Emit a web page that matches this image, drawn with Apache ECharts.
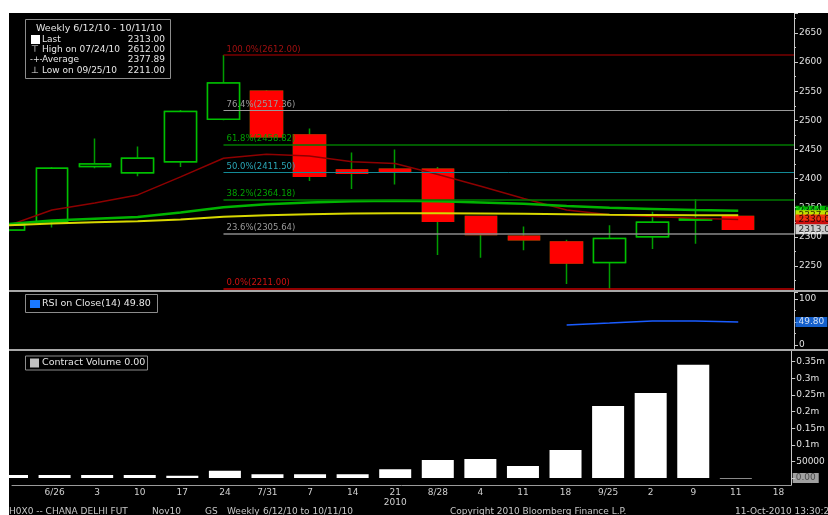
<!DOCTYPE html>
<html><head><meta charset="utf-8">
<script src="https://cdn.jsdelivr.net/npm/echarts@6/dist/echarts.min.js"></script>
<style>
html,body{margin:0;padding:0;background:#fff;width:828px;height:515px;overflow:hidden}
#c{position:absolute;left:9px;top:13px;width:819px;height:502px;background:#000}
</style>
</head><body><div id="c"></div>
<script>
// ---------- data ----------
const weeks = ['6/19','6/26','7/3','7/10','7/17','7/24','7/31','8/7','8/14','8/21','8/28','9/4','9/11','9/18','9/25','10/2','10/9','10/11'];
const tickLabels = ['', '6/26','3','10','17','24','7/31','7','14','21\n2010','8/28','4','11','18','9/25','2','9','11','18'];
const opens  = [2312, 2326, 2421, 2410, 2429, 2502, 2550, 2475, 2415, 2416, 2416, 2335, 2301, 2291, 2256, 2300, 2329, 2335];
const closes = [2320, 2418, 2425, 2435, 2515, 2564, 2472, 2404, 2409, 2412, 2327, 2304, 2295, 2255, 2297, 2325, 2331, 2313];
const lows   = [2308, 2316, 2418, 2404, 2420, 2500, 2470, 2396, 2382, 2390, 2269, 2264, 2277, 2219, 2211, 2279, 2288, 2312];
const highs  = [2322, 2420, 2469, 2455, 2518, 2612, 2552, 2486, 2445, 2450, 2420, 2336, 2318, 2295, 2320, 2343, 2365, 2336];
const maRed    = [2320, 2346, 2358, 2372, 2403, 2435, 2442, 2439, 2429, 2426, 2407, 2387, 2366, 2346, 2338, 2335, 2332, 2330];
const maGreen  = [2322, 2328, 2331, 2334, 2342, 2351, 2356, 2359, 2361, 2362, 2361, 2359, 2357, 2353, 2350, 2348, 2346, 2344.9];
const maYellow = [2320, 2323, 2325, 2327, 2330, 2334.5, 2337, 2339, 2340, 2340.5, 2340.5, 2340, 2339.5, 2339, 2338, 2337.5, 2337, 2337];
const rsi = [null, null, null, null, null, null, null, null, null, null, null, null, null, 43.5, 47.8, 52.2, 52.2, 49.8];
const volume = [9000, 9000, 9000, 9000, 7000, 22000, 11000, 11000, 11000, 26000, 54000, 57000, 36000, 84000, 217000, 256000, 341000, 0];
const fibPcts = ['100.0%','76.4%','61.8%','50.0%','38.2%','23.6%','0.0%'];
const fibLevels = [2612.00, 2517.36, 2458.82, 2411.50, 2364.18, 2305.64, 2211.00];
const fibStartWeek = 5;
const lastClose = 2313.00, highVal = 2612.00, avgVal = 2377.89, lowVal = 2211.00, rsiLast = 49.80, volLast = 0.00;
const priceTicks = [2250, 2300, 2350, 2400, 2450, 2500, 2550, 2600, 2650];

// ---------- styles ----------
const FONT = '"DejaVu Sans", Verdana, sans-serif';
const fibLineColors = ['#7a0000', '#9a9a9a', '#007a00', '#138a96', '#007a00', '#8a8a8a', '#c00000'];
const fibTextColors = ['#a01010', '#9a9a9a', '#00a000', '#2aa6b6', '#00a000', '#9a9a9a', '#d01010'];
const fibWidths = [1.5, 1, 1.5, 1, 1.5, 1.5, 1.5];
const X_MAX = 18.3;

const idx = weeks.map((_, i) => i);
const pts = arr => arr.map((v, i) => v == null ? null : [i, v]).filter(Boolean);

// value tag on the right axis, drawn as a scatter label at the axis edge
function tagSeries(gi, value, text, bg, fg, z) {
  return { type: 'scatter', xAxisIndex: gi, yAxisIndex: gi, z: z, silent: true, clip: false,
    symbol: 'rect', symbolSize: 1, itemStyle: { color: 'rgba(0,0,0,0)' },
    data: [[X_MAX, value]],
    label: { show: true, position: 'right', distance: 1, formatter: text, backgroundColor: bg, color: fg,
      fontSize: 9, fontFamily: FONT, padding: [1, 3, 0, 3] } };
}

const chart = echarts.init(document.getElementById('c'), null, { renderer: 'canvas', width: 819, height: 502 });

const hiddenX = g => ({ type: 'value', gridIndex: g, min: 0, max: X_MAX, interval: 1, show: false });
const LF = '9px ' + FONT;
const last = a => a[a.length - 1];

const option = {
  animation: false,
  backgroundColor: '#000',
  grid: [
    { left: -1, right: 34, top: 0, height: 277 },
    { left: -1, right: 34, top: 279, height: 57 },
    { left: -1, right: 34, top: 338, height: 134 }
  ],
  xAxis: [
    hiddenX(0), hiddenX(1),
    { type: 'value', gridIndex: 2, min: 0, max: X_MAX, interval: 1,
      axisLine: { show: true, onZero: false, lineStyle: { color: '#9a9a9a', width: 1 } },
      axisTick: { show: false }, splitLine: { show: false },
      axisLabel: { color: '#d0d0d0', fontSize: 9, fontFamily: FONT, margin: 3, lineHeight: 10,
        showMaxLabel: false,
        formatter: v => Number.isInteger(v) && tickLabels[v] !== undefined ? tickLabels[v] : '' } }
  ],
  yAxis: [
    { type: 'value', gridIndex: 0, position: 'right', min: 2208.8, max: 2684.3,
      splitNumber: 10, minInterval: 50, maxInterval: 50, scale: true,
      axisLine: { show: true, onZero: false, lineStyle: { color: '#c8c8c8' } },
      axisTick: { show: true, length: 4, lineStyle: { color: '#c8c8c8' } },
      minorTick: { show: true, splitNumber: 2, length: 2, lineStyle: { color: '#c8c8c8' } },
      splitLine: { show: false },
      axisLabel: { color: '#e0e0e0', fontSize: 9, fontFamily: FONT, margin: 5,
        showMinLabel: false, showMaxLabel: false,
        formatter: v => priceTicks.indexOf(v) >= 0 ? String(v) : '' } },
    { type: 'value', gridIndex: 1, position: 'right', min: -8.7, max: 115.2,
      splitNumber: 2, minInterval: 50, maxInterval: 50,
      axisLine: { show: true, onZero: false, lineStyle: { color: '#c8c8c8' } },
      axisTick: { show: true, length: 4, lineStyle: { color: '#c8c8c8' } },
      minorTick: { show: true, splitNumber: 2, length: 2, lineStyle: { color: '#c8c8c8' } },
      splitLine: { show: false },
      axisLabel: { color: '#e0e0e0', fontSize: 9, fontFamily: FONT, margin: 5,
        showMinLabel: false, showMaxLabel: false,
        formatter: v => (v === 0 || v === 100) ? String(v) : '' } },
    { type: 'value', gridIndex: 2, position: 'right', min: -21066, max: 382200,
      splitNumber: 8, minInterval: 50000, maxInterval: 50000,
      axisLine: { show: true, onZero: false, lineStyle: { color: '#c8c8c8' } },
      axisTick: { show: true, length: 4, lineStyle: { color: '#c8c8c8' } },
      splitLine: { show: false },
      axisLabel: { color: '#e0e0e0', fontSize: 9, fontFamily: FONT, margin: 5,
        showMinLabel: false, showMaxLabel: false,
        formatter: v => v >= 100000 ? (v / 1e6) + 'm' : (v === 50000 ? '50000' : '') } }
  ],
  series: [
    { type: 'candlestick', name: 'wicks', xAxisIndex: 0, yAxisIndex: 0, barWidth: 32, silent: true,
      data: idx.map(i => [i, opens[i], closes[i], lows[i], highs[i]]),
      itemStyle: { color: 'rgba(0,0,0,0)', color0: 'rgba(0,0,0,0)', borderColor: '#009c00', borderColor0: '#009c00', borderColorDoji: '#009c00', borderWidth: 1.5 } },
    { type: 'candlestick', name: 'bodies', xAxisIndex: 0, yAxisIndex: 0, barWidth: 32, silent: true,
      data: idx.map(i => [i, opens[i], closes[i], Math.min(opens[i], closes[i]), Math.max(opens[i], closes[i])]),
      itemStyle: { color: '#000', color0: '#ff0000', borderColor: '#00c000', borderColor0: '#ff0000', borderColorDoji: '#00a000', borderWidth: 1.5 } },
    { type: 'line', name: 'maRed', xAxisIndex: 0, yAxisIndex: 0, data: pts(maRed), showSymbol: false, silent: true,
      lineStyle: { color: '#8e0000', width: 1.5 } },
    { type: 'line', name: 'maGreen', xAxisIndex: 0, yAxisIndex: 0, data: pts(maGreen), showSymbol: false, silent: true,
      lineStyle: { color: '#00b400', width: 2.5 } },
    { type: 'line', name: 'maYellow', xAxisIndex: 0, yAxisIndex: 0, data: pts(maYellow), showSymbol: false, silent: true,
      lineStyle: { color: '#d8d800', width: 2 } },
    { type: 'line', name: 'fib', xAxisIndex: 0, yAxisIndex: 0, data: [], silent: true,
      markLine: { silent: true, symbol: 'none', animation: false, z: 4,
        data: fibLevels.map((v, k) => [
          { coord: [fibStartWeek, v], lineStyle: { color: fibLineColors[k], width: fibWidths[k], type: 'solid' },
            label: { show: true, position: 'insideStartTop', formatter: fibPcts[k] + '(' + v.toFixed(2) + ')',
              color: fibTextColors[k], fontSize: 8.5, fontFamily: FONT, distance: [3, 1] } },
          { coord: [X_MAX, v] }
        ]) } },
    tagSeries(0, last(maGreen), last(maGreen).toFixed(1), '#00e000', '#000', 20),
    tagSeries(0, last(maYellow), last(maYellow).toFixed(1), '#f0f000', '#000', 21),
    tagSeries(0, last(maRed), last(maRed).toFixed(1), '#ff1010', '#000', 22),
    tagSeries(0, lastClose, lastClose.toFixed(2), '#ffffff', '#000', 23),
    { type: 'line', name: 'rsi', xAxisIndex: 1, yAxisIndex: 1, data: pts(rsi), showSymbol: false, silent: true,
      lineStyle: { color: '#1a5cff', width: 1.5 } },
    tagSeries(1, rsiLast, rsiLast.toFixed(2), '#1a78ff', '#ffffff', 20),
    { type: 'bar', name: 'volume', xAxisIndex: 2, yAxisIndex: 2, barWidth: 32, barMinHeight: 1, silent: true, clip: false,
      data: pts(volume),
      itemStyle: { color: p => p.value[1] === 0 ? '#8a8a8a' : '#ffffff' } },
    tagSeries(2, volLast, volLast.toFixed(2), '#c8c8c8', '#333', 20)
  ],
  graphic: [
    { type: 'rect', z: 100, shape: { x: 0, y: 277, width: 819, height: 2 }, style: { fill: '#a8a8a8' } },
    { type: 'rect', z: 100, shape: { x: 0, y: 336, width: 819, height: 2 }, style: { fill: '#a8a8a8' } },
    { type: 'group', z: 100, children: [
      { type: 'rect', shape: { x: 16.5, y: 6.5, width: 145, height: 59 }, style: { fill: '#000', stroke: '#8c8c8c', lineWidth: 1 } },
      { type: 'text', x: 27, y: 15.5, style: { text: 'Weekly 6/12/10 - 10/11/10', fill: '#e6e6e6', font: '9.5px ' + FONT, textVerticalAlign: 'middle' } },
      { type: 'rect', shape: { x: 22, y: 22, width: 9, height: 9 }, style: { fill: '#ffffff' } },
      { type: 'text', x: 33, y: 26.5, style: { text: 'Last', fill: '#e6e6e6', font: LF, textVerticalAlign: 'middle' } },
      { type: 'text', x: 156, y: 26.5, style: { text: lastClose.toFixed(2), fill: '#e6e6e6', font: LF, textAlign: 'right', textVerticalAlign: 'middle' } },
      { type: 'text', x: 22, y: 36.5, style: { text: '\u22A4', fill: '#e6e6e6', font: LF, textVerticalAlign: 'middle' } },
      { type: 'text', x: 33, y: 36.5, style: { text: 'High on 07/24/10', fill: '#e6e6e6', font: LF, textVerticalAlign: 'middle' } },
      { type: 'text', x: 156, y: 36.5, style: { text: highVal.toFixed(2), fill: '#e6e6e6', font: LF, textAlign: 'right', textVerticalAlign: 'middle' } },
      { type: 'text', x: 21, y: 47, style: { text: '-+-', fill: '#e6e6e6', font: '8px ' + FONT, textVerticalAlign: 'middle' } },
      { type: 'text', x: 33, y: 47, style: { text: 'Average', fill: '#e6e6e6', font: LF, textVerticalAlign: 'middle' } },
      { type: 'text', x: 156, y: 47, style: { text: avgVal.toFixed(2), fill: '#e6e6e6', font: LF, textAlign: 'right', textVerticalAlign: 'middle' } },
      { type: 'text', x: 22, y: 57.7, style: { text: '\u22A5', fill: '#e6e6e6', font: LF, textVerticalAlign: 'middle' } },
      { type: 'text', x: 33, y: 57.7, style: { text: 'Low on 09/25/10', fill: '#e6e6e6', font: LF, textVerticalAlign: 'middle' } },
      { type: 'text', x: 156, y: 57.7, style: { text: lowVal.toFixed(2), fill: '#e6e6e6', font: LF, textAlign: 'right', textVerticalAlign: 'middle' } }
    ] },
    { type: 'group', z: 100, children: [
      { type: 'rect', shape: { x: 16.5, y: 281.5, width: 132, height: 18 }, style: { fill: '#000', stroke: '#8c8c8c', lineWidth: 1 } },
      { type: 'rect', shape: { x: 21, y: 287, width: 10, height: 8 }, style: { fill: '#1a78ff' } },
      { type: 'text', x: 33, y: 290.5, style: { text: 'RSI on Close(14) ' + rsiLast.toFixed(2), fill: '#e6e6e6', font: '9.5px ' + FONT, textVerticalAlign: 'middle' } }
    ] },
    { type: 'group', z: 100, children: [
      { type: 'rect', shape: { x: 16.5, y: 343, width: 122, height: 14 }, style: { fill: '#000', stroke: '#8c8c8c', lineWidth: 1 } },
      { type: 'rect', shape: { x: 21, y: 345.5, width: 9, height: 9 }, style: { fill: '#c0c0c0' } },
      { type: 'text', x: 33, y: 350, style: { text: 'Contract Volume ' + volLast.toFixed(2), fill: '#e6e6e6', font: '9.5px ' + FONT, textVerticalAlign: 'middle' } }
    ] },
    { type: 'group', z: 100, children: [
      { type: 'text', x: 0, y: 494, style: { text: 'H0X0 -- CHANA DELHI FUT', fill: '#c8c8c8', font: '9px ' + FONT, textVerticalAlign: 'top' } },
      { type: 'text', x: 143, y: 494, style: { text: 'Nov10', fill: '#c8c8c8', font: '9px ' + FONT, textVerticalAlign: 'top' } },
      { type: 'text', x: 196, y: 494, style: { text: 'GS', fill: '#c8c8c8', font: '9px ' + FONT, textVerticalAlign: 'top' } },
      { type: 'text', x: 218, y: 494, style: { text: 'Weekly', fill: '#c8c8c8', font: '9px ' + FONT, textVerticalAlign: 'top' } },
      { type: 'text', x: 254, y: 494, style: { text: '6/12/10 to 10/11/10', fill: '#c8c8c8', font: '9px ' + FONT, textVerticalAlign: 'top' } },
      { type: 'text', x: 441, y: 494, style: { text: 'Copyright 2010 Bloomberg Finance L.P.', fill: '#c8c8c8', font: '9px ' + FONT, textVerticalAlign: 'top' } },
      { type: 'text', x: 726, y: 494, style: { text: '11-Oct-2010 13:30:26', fill: '#c8c8c8', font: '9px ' + FONT, textVerticalAlign: 'top' } }
    ] }
  ]
};
chart.setOption(option);
</script>
</body></html>
